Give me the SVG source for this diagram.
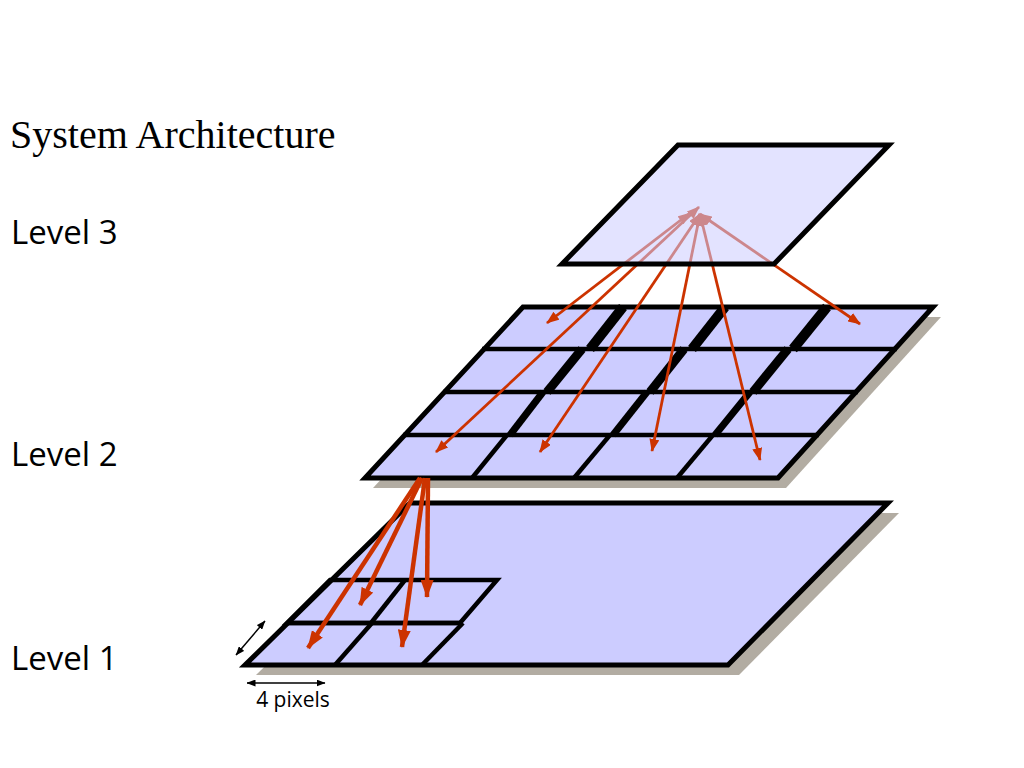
<svg xmlns="http://www.w3.org/2000/svg" width="1024" height="768" viewBox="0 0 1024 768">
<style>
.plane{fill:#ccccff;stroke:#000;stroke-width:5;stroke-linejoin:miter}
.shadow{fill:#b2aca2;stroke:none}
.grid{stroke:#000;fill:none;stroke-linecap:butt}
.arr{stroke:#cc3300;fill:none;stroke-width:2.8}
.arrL{stroke:#cc3300;fill:none;stroke-width:4.5}
.dim{stroke:#000;fill:none;stroke-width:1.5}
.lbl{font-family:"Open Sans","Noto Sans","DejaVu Sans",sans-serif;font-size:33px;fill:#000}
.title{font-family:"Liberation Serif","Times New Roman",serif;font-size:40px;fill:#000}
.small{font-family:"Open Sans","Noto Sans","DejaVu Sans",sans-serif;font-size:21px;fill:#000}
</style>
<defs>
<marker id="ah" viewBox="0 0 13 10" refX="12" refY="5" markerWidth="13" markerHeight="10" markerUnits="userSpaceOnUse" orient="auto-start-reverse">
<path d="M0,0 L13,5 L0,10 Z" fill="#cc3300"/>
</marker>
<marker id="ahL" viewBox="0 0 18 13" refX="17" refY="6.5" markerWidth="18" markerHeight="13" markerUnits="userSpaceOnUse" orient="auto">
<path d="M0,0 L18,6.5 L0,13 Z" fill="#cc3300"/>
</marker>
<marker id="ahd" viewBox="0 0 9 7" refX="8.5" refY="3.5" markerWidth="9" markerHeight="7" markerUnits="userSpaceOnUse" orient="auto-start-reverse">
<path d="M0,0 L9,3.5 L0,7 Z" fill="#000"/>
</marker>
</defs>

<rect x="0" y="0" width="1024" height="768" fill="#ffffff"/>

<g id="labels">
<text class="title" x="10" y="148">System Architecture</text>
<text class="lbl" x="11" y="244">Level 3</text>
<text class="lbl" x="11" y="466">Level 2</text>
<text class="lbl" x="11" y="670">Level 1</text>
</g>

<g id="level1">
<polygon class="shadow" points="421,513 899,513 739,675 256,675"/>
<polygon class="plane" stroke-width="4.5" points="410,503 888,503 728,665 245,665"/>
<g class="grid" stroke-width="4.5">
<polygon points="330,580 497,580 460,623 287,623" fill="none"/>
<line x1="405" y1="580" x2="371" y2="623"/>
<line x1="287" y1="623" x2="463" y2="623"/>
<line x1="463" y1="623" x2="422" y2="665"/>
<line x1="372" y1="623" x2="335" y2="665"/>
</g>
</g>

<g id="level1-dims">
<line class="dim" x1="236" y1="655" x2="265" y2="621" marker-start="url(#ahd)" marker-end="url(#ahd)"/>
<line class="dim" x1="247" y1="683" x2="325" y2="683" marker-start="url(#ahd)" marker-end="url(#ahd)"/>
<text class="small" x="293" y="707" text-anchor="middle">4 pixels</text>
</g>

<g id="level2">
<polygon class="shadow" points="531,317 941,317 786,488 373,488"/>
<polygon class="plane" points="523,307 933,307 778,478 365,478"/>
<g class="grid" stroke-width="4.5">
<line x1="482" y1="349" x2="897" y2="349"/>
<line x1="443" y1="392" x2="858" y2="392"/>
<line x1="403" y1="435" x2="819" y2="435"/>
</g>
<g class="grid" stroke-width="10">
<line x1="623" y1="307" x2="590" y2="349"/>
<line x1="725" y1="307" x2="692" y2="349"/>
<line x1="827" y1="307" x2="793" y2="349"/>
</g>
<g class="grid" stroke-width="9">
<line x1="582" y1="349" x2="547" y2="392"/>
<line x1="684" y1="349" x2="650" y2="392"/>
<line x1="788" y1="349" x2="753" y2="392"/>
</g>
<g class="grid" stroke-width="7">
<line x1="543" y1="392" x2="510" y2="435"/>
<line x1="647" y1="392" x2="613" y2="435"/>
<line x1="750" y1="392" x2="715" y2="435"/>
</g>
<g class="grid" stroke-width="4.5">
<line x1="507" y1="435" x2="472" y2="478"/>
<line x1="610" y1="435" x2="574" y2="478"/>
<line x1="713" y1="435" x2="677" y2="478"/>
</g>
</g>

<g id="connectors">
<line class="arr" x1="690" y1="213" x2="547" y2="323" marker-start="url(#ah)" marker-end="url(#ah)"/>
<line class="arr" x1="699" y1="207" x2="436" y2="452" marker-start="url(#ah)" marker-end="url(#ah)"/>
<line class="arr" stroke-width="3.6" x1="700" y1="214" x2="540" y2="452" marker-start="url(#ah)" marker-end="url(#ah)"/>
<line class="arr" x1="700" y1="214" x2="652" y2="451" marker-start="url(#ah)" marker-end="url(#ah)"/>
<line class="arr" x1="700" y1="214" x2="760" y2="460" marker-start="url(#ah)" marker-end="url(#ah)"/>
<line class="arr" x1="700" y1="214" x2="860" y2="324" marker-start="url(#ah)" marker-end="url(#ah)"/>
<line class="arrL" x1="420" y1="478" x2="308" y2="648" marker-end="url(#ahL)"/>
<line class="arrL" x1="422" y1="478" x2="360" y2="605" marker-end="url(#ahL)"/>
<line class="arrL" x1="425" y1="478" x2="402" y2="647" marker-end="url(#ahL)"/>
<line class="arrL" x1="428" y1="478" x2="427" y2="597" marker-end="url(#ahL)"/>
</g>

<g id="level3">
<polygon class="plane" fill-opacity="0.55" points="678,145 889,145 774,264 562,264"/>
</g>
</svg>
